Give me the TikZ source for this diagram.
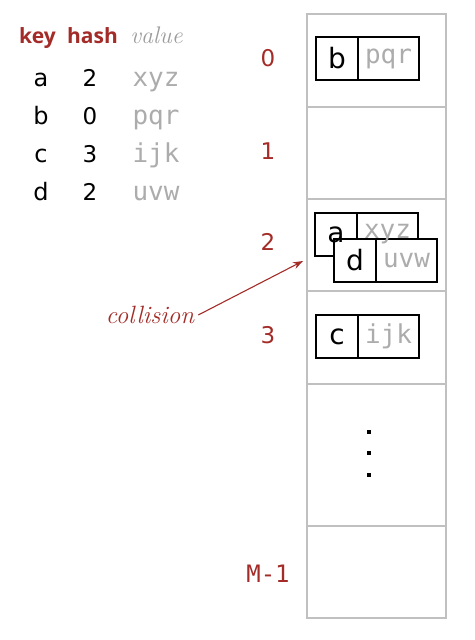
\documentclass[tikz,border=0pt]{standalone}
\usepackage{fontspec}
\usetikzlibrary{positioning,arrows.meta}
\newfontfamily\keyfont{DejaVu Sans}
\newfontfamily\headfont{Open Sans}
\newfontfamily\codefont{DejaVu Sans Mono}
\definecolor{bookred}{RGB}{163,44,40}
\definecolor{valgray}{RGB}{172,172,172}
\definecolor{linegray}{RGB}{192,192,192}

\tikzset{
  keycell/.style={draw=black,fill=white,line width=1.3pt,minimum width=42pt,minimum height=43pt,
    inner sep=0pt,outer sep=0pt,font=\keyfont\fontsize{28}{28}\selectfont},
  valcell/.style={keycell,minimum width=61pt,text=valgray,font=\codefont\fontsize{26}{26}\selectfont},
  headtext/.style={anchor=base,inner sep=0pt,text=bookred,font=\headfont\bfseries\fontsize{21}{21}\selectfont},
  slotlabel/.style={inner sep=0pt,text=bookred,font=\keyfont\fontsize{23}{23}\selectfont}
}

\begin{document}
\begin{tikzpicture}[x=1pt,y=-1pt]
\useasboundingbox (0,0) rectangle (474,640);

% Draw the table of keys, hashes and values
\node[headtext] (keyhead) at (37.5,43) {key};
\node[headtext] (hashhead) at (92.5,43) {hash};
\node[headtext,text=valgray!90!black,font=\itshape\fontsize{24}{24}\selectfont] (valhead) at (156.5,43) {value};
\foreach \k/\h/\v [count=\i] in {a/2/xyz,b/0/pqr,c/3/ijk,d/2/uvw}{
\node[anchor=base,inner sep=0pt,font=\keyfont\fontsize{24}{24}\selectfont] (key\i) at (41,48+38*\i) {\k};
\node[anchor=base,inner sep=0pt,font=\keyfont\fontsize{23}{23}\selectfont] (hash\i) at (90,48+38*\i) {\h};
\node[anchor=base,inner sep=0pt,text=valgray,font=\codefont\fontsize{26}{26}\selectfont] (val\i) at (156,48+38*\i) {\v};
}

% Draw the array of slots
\draw[linegray,line width=1.5pt] (307,14) rectangle (446,618);
\foreach \y in {107,199,291,384,526}
\draw[linegray,line width=1.5pt] (307,\y) -- (446,\y);

% Slot numbers
\node[slotlabel] (slot0) at (268,58) {0};
\node[slotlabel] (slot1) at (268,151) {1};
\node[slotlabel] (slot2) at (268,242) {2};
\node[slotlabel] (slot3) at (268,335) {3};
\node[slotlabel,font=\codefont\fontsize{24}{24}\selectfont] (slotM) at (268,574) {M-1};

% Dots for the slots left out
\foreach \y in {432,453,475}
\fill (367,\y-2) rectangle ++(4,4);

% Entries in slots 0 and 3
\node[keycell,anchor=north west] (bkey) at (316,37) {b};
\node[valcell,right=0pt of bkey] (bval) {pqr};
\node[keycell,anchor=north west] (ckey) at (316,315) {c};
\node[valcell,right=0pt of ckey] (cval) {ijk};

% Two entries in slot 2, d drawn over a
\node[keycell,anchor=north west] (akey) at (315,213) {};
\node[valcell,right=0pt of akey] (aval) {};
\node[keycell,anchor=north west] (dkey) at (334,239) {d};
\node[valcell,right=0pt of dkey] (dval) {uvw};
\node[keycell,draw=none,fill=none] (atext) at (akey.center) {a};
\node[valcell,draw=none,fill=none] (xyztext) at (aval.center) {xyz};

% Collision label and arrow
\node[text=bookred,inner sep=4pt,font=\itshape\fontsize{25}{25}\selectfont] (coll) at (150,315) {collision};
\coordinate (slot2in) at (303,261);
\draw[bookred,line width=1.1pt,-{Stealth[length=10pt,width=7pt]}] (coll.east) -- (slot2in);

\end{tikzpicture}
\end{document}
